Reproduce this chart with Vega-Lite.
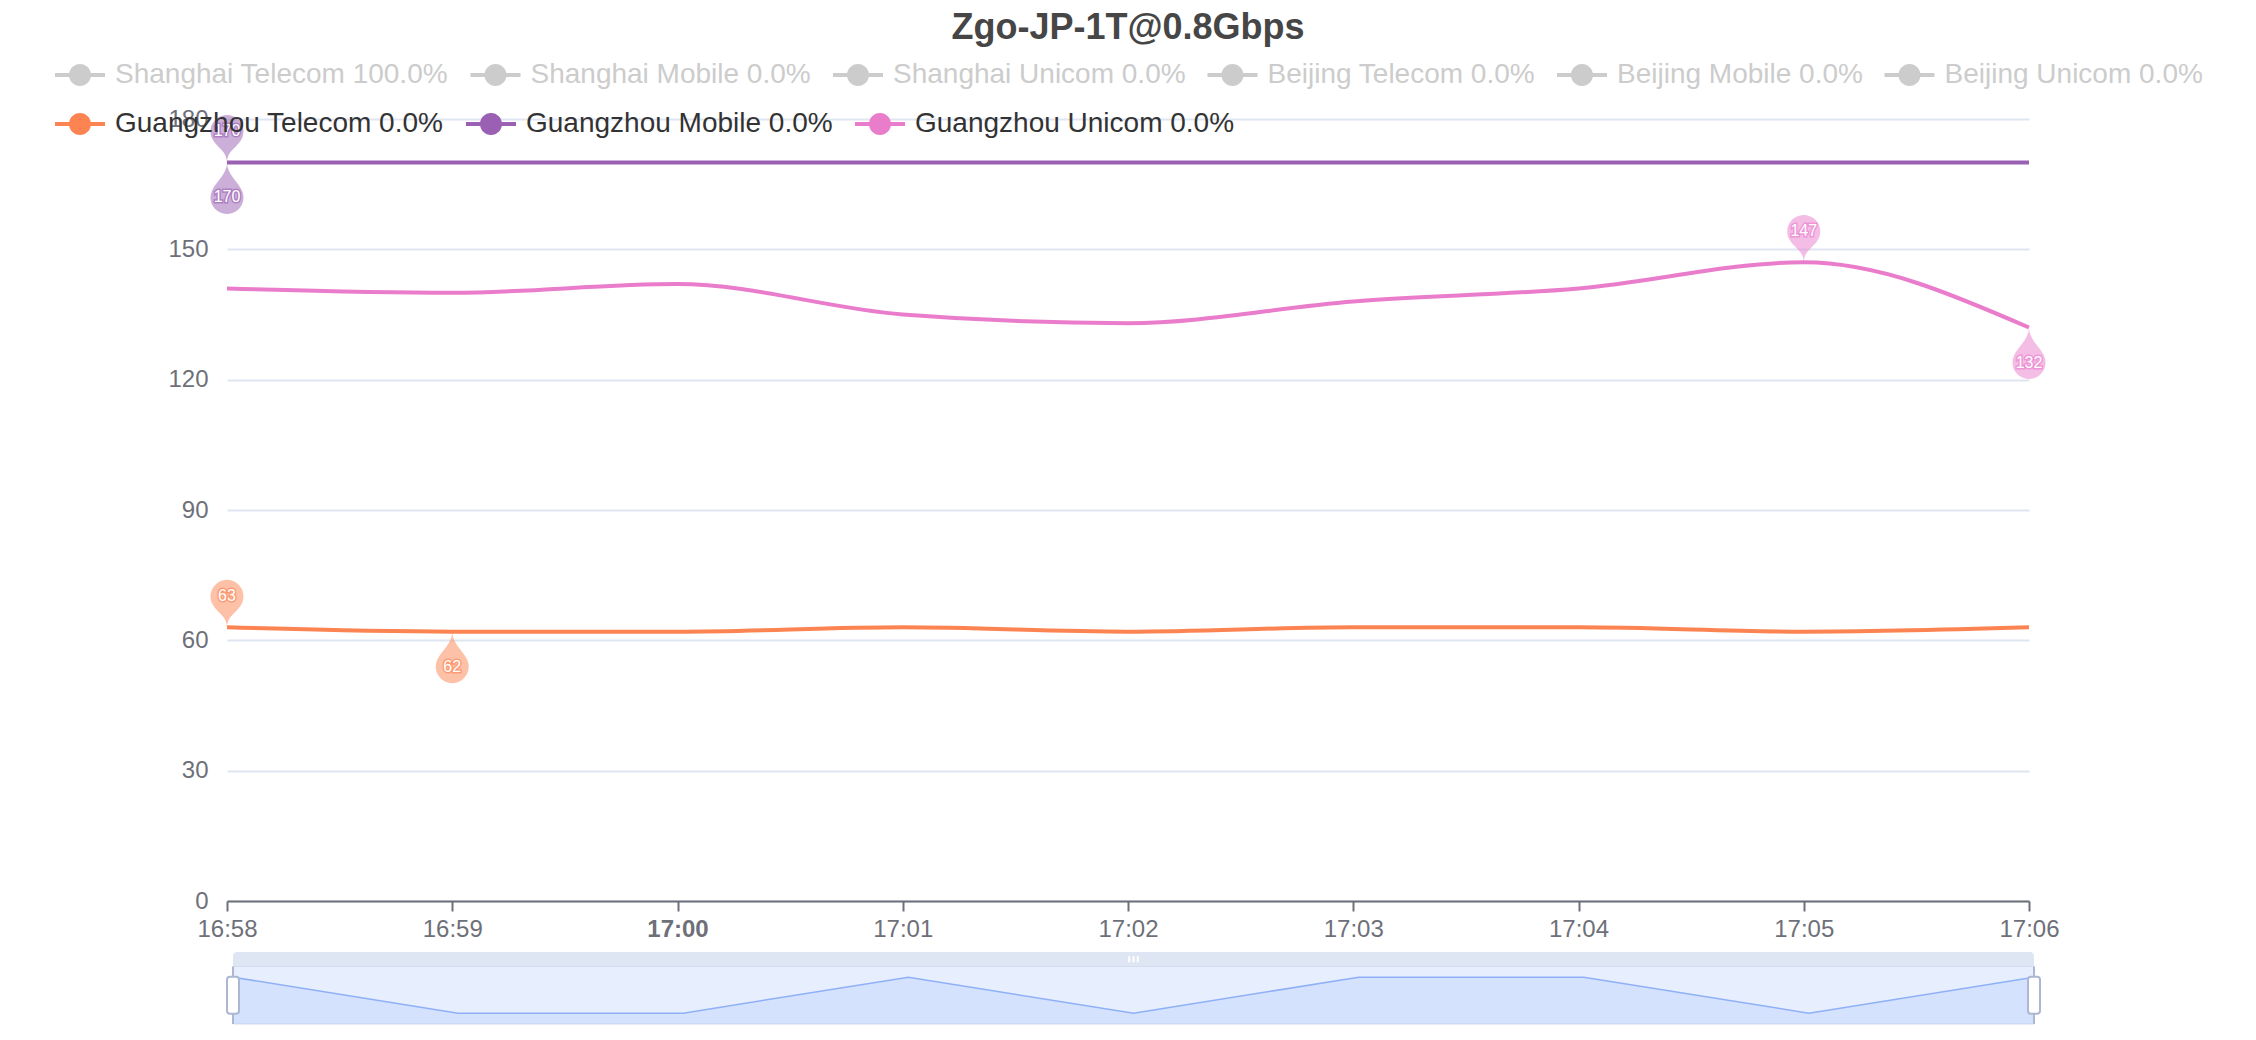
{
  "$schema": "https://vega.github.io/schema/vega-lite/v6.json",
  "width": 1802,
  "height": 782,
  "autosize": {"type": "none"},
  "padding": {"left": 227, "top": 119, "right": 227, "bottom": 139},
  "background": "white",
  "config": {"view": {"stroke": null}, "font": "Liberation Sans"},
  "title": {"text": "Zgo-JP-1T@0.8Gbps", "fontSize": 36, "fontWeight": "bold", "color": "#464646", "font": "Liberation Sans", "anchor": "middle", "frame": "group", "offset": 3},
  "datasets": {
    "series": [
      {"time": "2024-01-01T16:58:00", "series": "Guangzhou Telecom", "value": 63},
      {"time": "2024-01-01T16:59:00", "series": "Guangzhou Telecom", "value": 62},
      {"time": "2024-01-01T17:00:00", "series": "Guangzhou Telecom", "value": 62},
      {"time": "2024-01-01T17:01:00", "series": "Guangzhou Telecom", "value": 63},
      {"time": "2024-01-01T17:02:00", "series": "Guangzhou Telecom", "value": 62},
      {"time": "2024-01-01T17:03:00", "series": "Guangzhou Telecom", "value": 63},
      {"time": "2024-01-01T17:04:00", "series": "Guangzhou Telecom", "value": 63},
      {"time": "2024-01-01T17:05:00", "series": "Guangzhou Telecom", "value": 62},
      {"time": "2024-01-01T17:06:00", "series": "Guangzhou Telecom", "value": 63},
      {"time": "2024-01-01T16:58:00", "series": "Guangzhou Mobile", "value": 170},
      {"time": "2024-01-01T16:59:00", "series": "Guangzhou Mobile", "value": 170},
      {"time": "2024-01-01T17:00:00", "series": "Guangzhou Mobile", "value": 170},
      {"time": "2024-01-01T17:01:00", "series": "Guangzhou Mobile", "value": 170},
      {"time": "2024-01-01T17:02:00", "series": "Guangzhou Mobile", "value": 170},
      {"time": "2024-01-01T17:03:00", "series": "Guangzhou Mobile", "value": 170},
      {"time": "2024-01-01T17:04:00", "series": "Guangzhou Mobile", "value": 170},
      {"time": "2024-01-01T17:05:00", "series": "Guangzhou Mobile", "value": 170},
      {"time": "2024-01-01T17:06:00", "series": "Guangzhou Mobile", "value": 170},
      {"time": "2024-01-01T16:58:00", "series": "Guangzhou Unicom", "value": 141},
      {"time": "2024-01-01T16:59:00", "series": "Guangzhou Unicom", "value": 140},
      {"time": "2024-01-01T17:00:00", "series": "Guangzhou Unicom", "value": 142},
      {"time": "2024-01-01T17:01:00", "series": "Guangzhou Unicom", "value": 135},
      {"time": "2024-01-01T17:02:00", "series": "Guangzhou Unicom", "value": 133},
      {"time": "2024-01-01T17:03:00", "series": "Guangzhou Unicom", "value": 138},
      {"time": "2024-01-01T17:04:00", "series": "Guangzhou Unicom", "value": 141},
      {"time": "2024-01-01T17:05:00", "series": "Guangzhou Unicom", "value": 147},
      {"time": "2024-01-01T17:06:00", "series": "Guangzhou Unicom", "value": 132}
    ],
    "disabled": [
      {"series": "Shanghai Telecom"},
      {"series": "Shanghai Mobile"},
      {"series": "Shanghai Unicom"},
      {"series": "Beijing Telecom"},
      {"series": "Beijing Mobile"},
      {"series": "Beijing Unicom"}
    ],
    "pins": [
      {"time": "2024-01-01T16:58:00", "series": "Guangzhou Telecom", "value": 63, "kind": "max"},
      {"time": "2024-01-01T16:59:00", "series": "Guangzhou Telecom", "value": 62, "kind": "min"},
      {"time": "2024-01-01T16:58:00", "series": "Guangzhou Mobile", "value": 170, "kind": "max"},
      {"time": "2024-01-01T16:58:00", "series": "Guangzhou Mobile", "value": 170, "kind": "min"},
      {"time": "2024-01-01T17:05:00", "series": "Guangzhou Unicom", "value": 147, "kind": "max"},
      {"time": "2024-01-01T17:06:00", "series": "Guangzhou Unicom", "value": 132, "kind": "min"}
    ],
    "frame": [
      {"start": "2024-01-01T16:58:00", "end": "2024-01-01T17:06:00", "mid": "2024-01-01T17:02:00"}
    ],
    "handles": [
      {"t": "2024-01-01T16:58:00"},
      {"t": "2024-01-01T17:06:00"}
    ]
  },
  "resolve": {"scale": {"x": "independent", "y": "independent"}},
  "layer": [
    {
      "layer": [
        {
          "data": {"name": "disabled"},
          "mark": {"type": "point", "filled": true, "opacity": 0},
          "encoding": {
            "fill": {
              "field": "series", "type": "nominal",
              "scale": {
                "domain": ["Shanghai Telecom", "Shanghai Mobile", "Shanghai Unicom", "Beijing Telecom", "Beijing Mobile", "Beijing Unicom"],
                "range": ["#cccccc", "#cccccc", "#cccccc", "#cccccc", "#cccccc", "#cccccc"]
              },
              "legend": {
                "orient": "none", "legendX": -172, "legendY": -69,
                "direction": "horizontal", "columns": 6,
                "title": null,
                "symbolType": "M-1,-0.08H1V0.08H-1Z M0.44,0A0.44,0.44,0,1,1,-0.44,0A0.44,0.44,0,1,1,0.44,0Z",
                "symbolSize": 2500, "symbolStrokeWidth": 0, "symbolOpacity": 1,
                "labelFont": "Liberation Sans", "labelFontSize": 28, "labelOffset": 10, "labelLimit": 1000,
                "labelColor": "#cccccc",
                "columnPadding": 21.5,
                "labelExpr": "datum.label + (datum.label == 'Shanghai Telecom' ? ' 100.0%' : ' 0.0%')",
                "encode": {
                  "symbols": {"update": {"fill": {"value": "#cccccc"}, "opacity": {"value": 1}, "strokeWidth": {"value": 0}}}
                }
              }
            }
          }
        },
        {
          "data": {"name": "series"},
          "mark": {"type": "line", "interpolate": "monotone", "strokeWidth": 4},
          "encoding": {
            "x": {
              "field": "time", "type": "temporal",
              "scale": {"domain": [{"year": 2024, "month": 1, "date": 1, "hours": 16, "minutes": 58}, {"year": 2024, "month": 1, "date": 1, "hours": 17, "minutes": 6}], "nice": false},
              "axis": {
                "title": null, "format": "%H:%M",
                "values": [
                  {"year": 2024, "month": 1, "date": 1, "hours": 16, "minutes": 58},
                  {"year": 2024, "month": 1, "date": 1, "hours": 16, "minutes": 59},
                  {"year": 2024, "month": 1, "date": 1, "hours": 17, "minutes": 0},
                  {"year": 2024, "month": 1, "date": 1, "hours": 17, "minutes": 1},
                  {"year": 2024, "month": 1, "date": 1, "hours": 17, "minutes": 2},
                  {"year": 2024, "month": 1, "date": 1, "hours": 17, "minutes": 3},
                  {"year": 2024, "month": 1, "date": 1, "hours": 17, "minutes": 4},
                  {"year": 2024, "month": 1, "date": 1, "hours": 17, "minutes": 5},
                  {"year": 2024, "month": 1, "date": 1, "hours": 17, "minutes": 6}
                ],
                "grid": false, "domainColor": "#6e7079", "domainWidth": 2,
                "tickColor": "#6e7079", "tickWidth": 2, "tickSize": 10,
                "labelColor": "#6e7079", "labelFontSize": 24, "labelFont": "Liberation Sans", "labelPadding": 6,
                "labelFlush": false, "labelOverlap": false,
                "labelFontWeight": {"condition": {"test": "minutes(datum.value) == 0", "value": "bold"}, "value": "normal"}
              }
            },
            "y": {
              "field": "value", "type": "quantitative",
              "scale": {"domain": [0, 180], "nice": false},
              "axis": {
                "title": null, "values": [0, 30, 60, 90, 120, 150, 180], "domain": false, "ticks": false,
                "gridColor": "#e0e6f1", "gridWidth": 2, "labelColor": "#6e7079", "labelFontSize": 24,
                "labelFont": "Liberation Sans", "labelPadding": 19
              }
            },
            "color": {
              "field": "series", "type": "nominal",
              "scale": {
                "domain": ["Guangzhou Telecom", "Guangzhou Mobile", "Guangzhou Unicom"],
                "range": ["#fc8452", "#9a60b4", "#ea7ccc"]
              },
              "legend": {
                "orient": "none", "legendX": -172, "legendY": -20,
                "direction": "horizontal", "columns": 3,
                "title": null,
                "symbolType": "M-1,-0.08H1V0.08H-1Z M0.44,0A0.44,0.44,0,1,1,-0.44,0A0.44,0.44,0,1,1,0.44,0Z",
                "symbolSize": 2500, "symbolStrokeWidth": 0, "symbolOpacity": 1,
                "labelFont": "Liberation Sans", "labelFontSize": 28, "labelOffset": 10, "labelLimit": 1000,
                "labelColor": "#333333",
                "columnPadding": 22,
                "labelExpr": "datum.label + ' 0.0%'",
                "encode": {
                  "symbols": {"update": {"fill": {"scale": "color", "field": "value"}, "strokeWidth": {"value": 0}}}
                }
              }
            }
          }
        },
        {
          "data": {"name": "pins"},
          "mark": {"type": "point", "filled": true, "opacity": 0.5, "size": 4, "strokeWidth": 0},
          "encoding": {
            "x": {"field": "time", "type": "temporal"},
            "y": {"field": "value", "type": "quantitative"},
            "color": {"field": "series", "type": "nominal", "legend": null},
            "shape": {
              "field": "kind", "type": "nominal", "legend": null,
              "scale": {
                "domain": ["max", "min"],
                "range": [
                  "M-14.88,-23.86A16.5,16.5,0,1,1,14.88,-23.86C10.6,-14.94,0,-11.55,0,0C0,-11.55,-10.6,-14.94,-14.88,-23.86Z",
                  "M-15.14,28.45A16.5,16.5,0,1,0,15.14,28.45C11.21,19.36,0,11.55,0,0C0,11.55,-11.21,19.36,-15.14,28.45Z"
                ]
              }
            }
          }
        },
        {
          "data": {"name": "pins"},
          "transform": [{"filter": "datum.kind == 'max'"}],
          "mark": {"type": "text", "dy": -31, "fontSize": 16, "font": "Liberation Sans", "strokeWidth": 3, "strokeOpacity": 0.6, "fillOpacity": 0, "align": "center", "baseline": "middle"},
          "encoding": {
            "x": {"field": "time", "type": "temporal"},
            "y": {"field": "value", "type": "quantitative"},
            "text": {"field": "value", "type": "quantitative"},
            "stroke": {"field": "series", "type": "nominal", "legend": null, "scale": {"domain": ["Guangzhou Telecom", "Guangzhou Mobile", "Guangzhou Unicom"], "range": ["#fc8452", "#9a60b4", "#ea7ccc"]}}
          }
        },
        {
          "data": {"name": "pins"},
          "transform": [{"filter": "datum.kind == 'min'"}],
          "mark": {"type": "text", "dy": 35, "fontSize": 16, "font": "Liberation Sans", "strokeWidth": 3, "strokeOpacity": 0.6, "fillOpacity": 0, "align": "center", "baseline": "middle"},
          "encoding": {
            "x": {"field": "time", "type": "temporal"},
            "y": {"field": "value", "type": "quantitative"},
            "text": {"field": "value", "type": "quantitative"},
            "stroke": {"field": "series", "type": "nominal", "legend": null}
          }
        },
        {
          "data": {"name": "pins"},
          "transform": [{"filter": "datum.kind == 'max'"}],
          "mark": {"type": "text", "dy": -31, "fontSize": 16, "font": "Liberation Sans", "fill": "#ffffff", "align": "center", "baseline": "middle"},
          "encoding": {
            "x": {"field": "time", "type": "temporal"},
            "y": {"field": "value", "type": "quantitative"},
            "text": {"field": "value", "type": "quantitative"}
          }
        },
        {
          "data": {"name": "pins"},
          "transform": [{"filter": "datum.kind == 'min'"}],
          "mark": {"type": "text", "dy": 35, "fontSize": 16, "font": "Liberation Sans", "fill": "#ffffff", "align": "center", "baseline": "middle"},
          "encoding": {
            "x": {"field": "time", "type": "temporal"},
            "y": {"field": "value", "type": "quantitative"},
            "text": {"field": "value", "type": "quantitative"}
          }
        }
      ]
    },
    {
      "layer": [
        {
          "data": {"name": "frame"},
          "mark": {"type": "rect", "fill": "#e7efff", "stroke": "#d2dbee", "strokeWidth": 1},
          "encoding": {
            "x": {"field": "start", "type": "temporal", "axis": null,
              "scale": {"domain": [{"year": 2024, "month": 1, "date": 1, "hours": 16, "minutes": 58}, {"year": 2024, "month": 1, "date": 1, "hours": 17, "minutes": 6}], "range": [6, 1807], "nice": false}},
            "x2": {"field": "end"},
            "y": {"datum": 61.7, "type": "quantitative", "axis": null, "scale": {"domain": [61.7, 63.7], "range": [905, 833], "nice": false, "zero": false}},
            "y2": {"datum": 63.3}
          }
        },
        {
          "data": {"name": "series"},
          "transform": [{"filter": "datum.series == 'Guangzhou Telecom'"}],
          "mark": {"type": "area", "color": "#8fb0f7", "fillOpacity": 0.2, "line": {"color": "#8fb0f7", "strokeWidth": 1.5}},
          "encoding": {
            "x": {"field": "time", "type": "temporal", "axis": null},
            "y": {"field": "value", "type": "quantitative", "axis": null},
            "y2": {"datum": 61.7}
          }
        },
        {
          "data": {"name": "frame"},
          "mark": {"type": "rect", "fill": "#d2dbee", "opacity": 0.7, "cornerRadiusTopLeft": 4, "cornerRadiusTopRight": 4},
          "encoding": {
            "x": {"field": "start", "type": "temporal", "axis": null},
            "x2": {"field": "end"},
            "y": {"datum": 63.3, "type": "quantitative", "axis": null},
            "y2": {"datum": 63.7}
          }
        },
        {
          "data": {"name": "frame"},
          "mark": {"type": "point", "filled": true, "fill": "#ffffff", "opacity": 1, "size": 4, "strokeWidth": 0,
            "shape": "M-5.3,-3H-3.3V3H-5.3Z M-1,-3H1V3H-1Z M3.3,-3H5.3V3H3.3Z"},
          "encoding": {
            "x": {"field": "mid", "type": "temporal", "axis": null},
            "y": {"datum": 63.5, "type": "quantitative", "axis": null}
          }
        },
        {
          "data": {"name": "handles"},
          "mark": {"type": "rule", "color": "#acb8d1", "strokeWidth": 2},
          "encoding": {
            "x": {"field": "t", "type": "temporal", "axis": null},
            "y": {"datum": 61.7, "type": "quantitative", "axis": null},
            "y2": {"datum": 63.3}
          }
        },
        {
          "data": {"name": "handles"},
          "mark": {"type": "point", "filled": true, "fill": "#ffffff", "stroke": "#acb8d1", "strokeWidth": 2, "opacity": 1, "size": 4,
            "shape": "M-3,-18.5H3A3,3,0,0,1,6,-15.5V15.5A3,3,0,0,1,3,18.5H-3A3,3,0,0,1,-6,15.5V-15.5A3,3,0,0,1,-3,-18.5Z"},
          "encoding": {
            "x": {"field": "t", "type": "temporal", "axis": null},
            "y": {"datum": 62.5, "type": "quantitative", "axis": null}
          }
        }
      ]
    }
  ]
}
